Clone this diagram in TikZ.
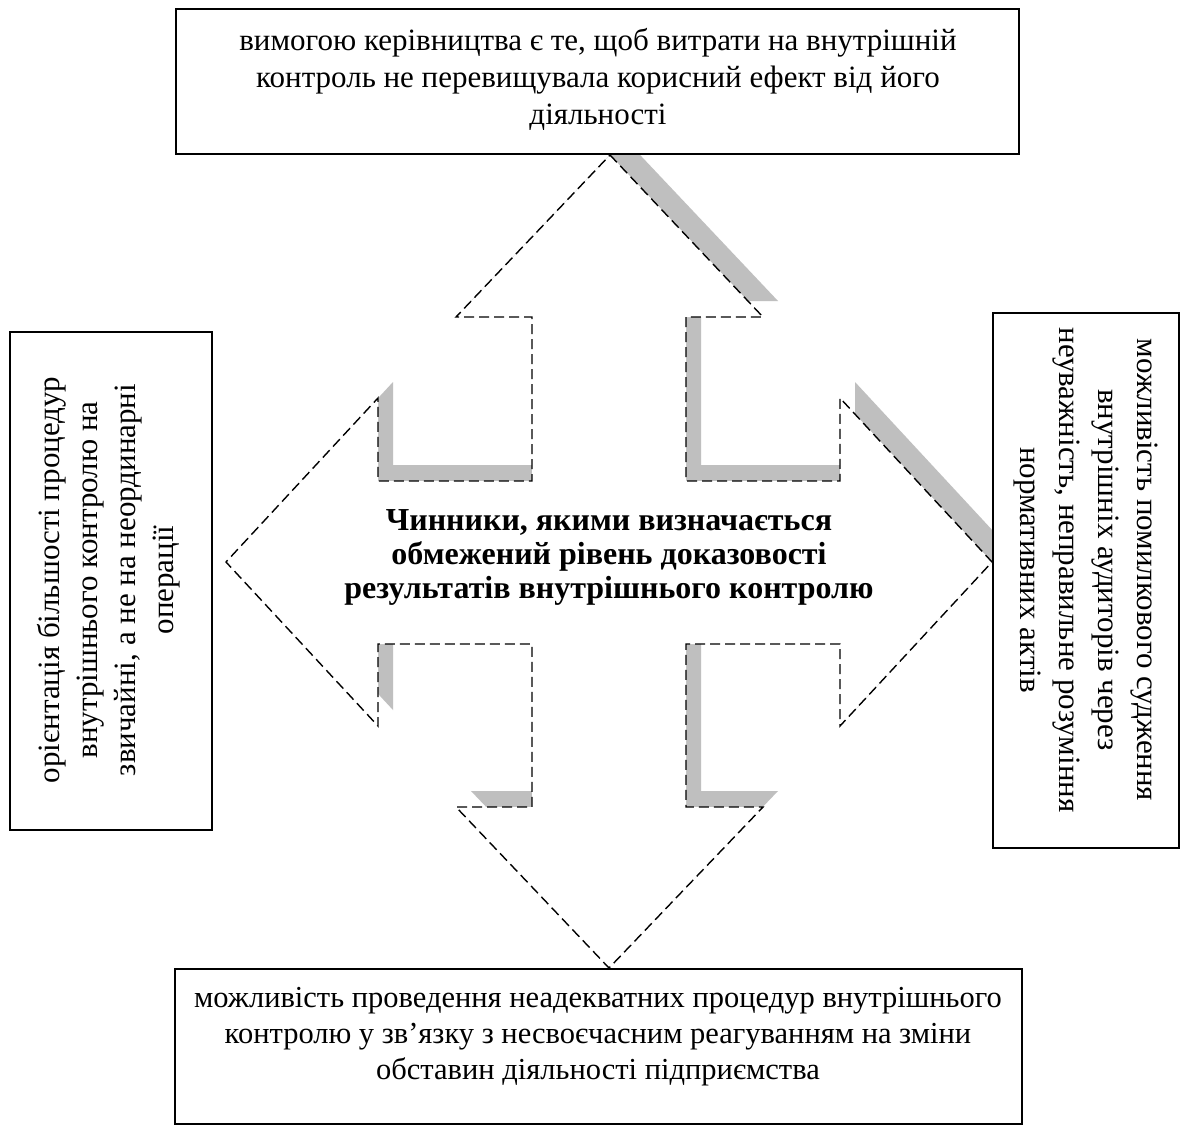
\documentclass[tikz,border=0pt]{standalone}
\usepackage{fontspec}
\setmainfont{Liberation Serif}
\begin{document}
\begin{tikzpicture}[x=1pt,y=-1pt,
  boxstyle/.style={draw=black, line width=1.8pt, fill=white, inner sep=0pt},
  txt/.style={font=\fontsize{31}{37}\selectfont, align=center, inner sep=0pt},
  midtxt/.style={font=\fontsize{32}{34}\selectfont\bfseries, align=center, inner sep=0pt},
  outline/.style={draw=black, fill=white, line width=1.4pt, dash pattern=on 10pt off 5pt},
  shadowfill/.style={fill=black!25}]
\newcommand\qarrowpath{(610,155) -- (763,317) -- (686,317) -- (686,481) -- (840,481) -- (840,398)
  -- (992,562) -- (840,726) -- (840,644) -- (686,644) -- (686,807) -- (763,807) -- (609,968)
  -- (456,807) -- (532,807) -- (532,644) -- (378,644) -- (378,726) -- (226,562) -- (378,398)
  -- (378,481) -- (532,481) -- (532,317) -- (456,317) -- cycle}
\useasboundingbox (0,0) rectangle (1185,1135);
\fill[white] (0,0) rectangle (1185,1135);
% shadow and quad arrow
\begin{scope}[shift={(15,-16)}]
  \fill[shadowfill] \qarrowpath;
\end{scope}
\path[outline] \qarrowpath;
% boxes
\node[boxstyle, minimum width=843, minimum height=145] (topbox) at (597.5,81.5) {};
\node[boxstyle, minimum width=847, minimum height=155] (botbox) at (598.5,1046.5) {};
\node[boxstyle, minimum width=202, minimum height=498] (leftbox) at (111,581) {};
\node[boxstyle, minimum width=186, minimum height=535] (rightbox) at (1086,580.5) {};
% texts
\node[txt] (toptxt) at (598,79) {вимогою керівництва є те, щоб витрати на внутрішній\\контроль не перевищувала корисний ефект від його\\діяльності};
\node[txt, font=\fontsize{30.5}{36}\selectfont] (bottxt) at (598,1037) {можливість проведення неадекватних процедур внутрішнього\\контролю у зв’язку з несвоєчасним реагуванням на зміни\\обставин діяльності підприємства};
\node[txt, rotate=90, font=\fontsize{31}{38}\selectfont] (lefttxt) at (109,580) {орієнтація більшості процедур\\внутрішнього контролю на\\звичайні, а не на неординарні\\операції};
\node[txt, rotate=-90, font=\fontsize{31}{39}\selectfont] (righttxt) at (1086,570) {можливість помилкового судження\\внутрішніх аудиторів через\\неуважність, неправильне розуміння\\нормативних актів};
\node[midtxt] (midtxt) at (609,557) {Чинники, якими визначається\\обмежений рівень доказовості\\результатів внутрішнього контролю};
\end{tikzpicture}
\end{document}
